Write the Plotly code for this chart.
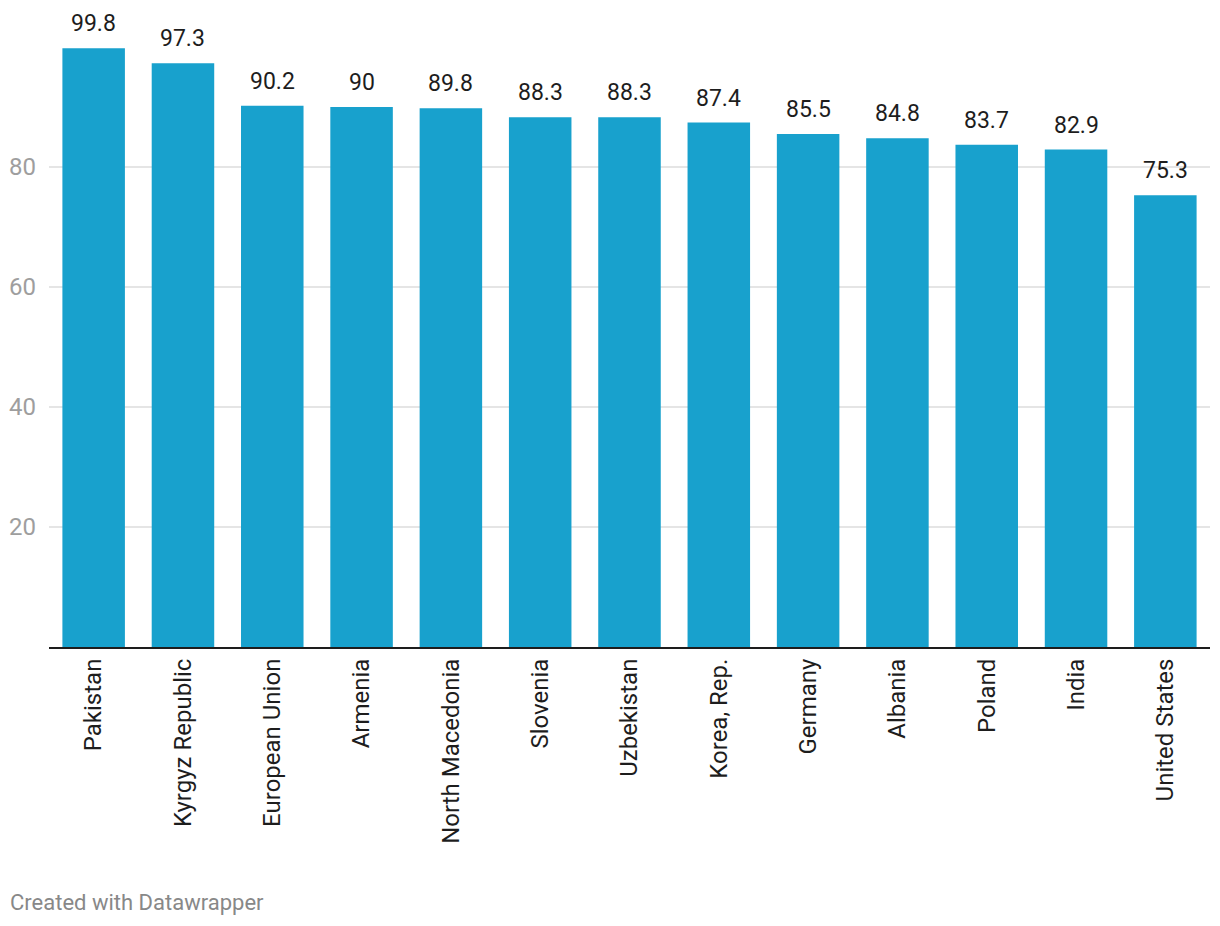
import plotly.graph_objects as go

categories = ["Pakistan", "Kyrgyz Republic", "European Union", "Armenia", "North Macedonia",
              "Slovenia", "Uzbekistan", "Korea, Rep.", "Germany", "Albania", "Poland",
              "India", "United States"]
values = [99.8, 97.3, 90.2, 90, 89.8, 88.3, 88.3, 87.4, 85.5, 84.8, 83.7, 82.9, 75.3]
value_labels = ["99.8", "97.3", "90.2", "90", "89.8", "88.3", "88.3", "87.4", "85.5",
                "84.8", "83.7", "82.9", "75.3"]
y_ticks = [20, 40, 60, 80]

fig = go.Figure(go.Bar(
    x=categories, y=values, marker=dict(color="#18a1cd", line=dict(width=0)),
    hoverinfo="skip",
))

for c, v, t in zip(categories, values, value_labels):
    fig.add_annotation(x=c, y=v, text=t, showarrow=False, yanchor="bottom", yshift=9,
                       font=dict(family="Roboto", size=23, color="#1d1d1d"))

fig.add_annotation(xref="paper", yref="paper", x=-41/1161, y=-255/600, xanchor="left",
                   yanchor="middle", text="Created with Datawrapper", showarrow=False,
                   font=dict(family="Roboto", size=22, color="#888888"))

fig.update_layout(
    width=1212, height=918,
    margin=dict(l=41, r=10, t=39, b=279, pad=0),
    paper_bgcolor="white", plot_bgcolor="white",
    bargap=0.3, showlegend=False,
    font=dict(family="Roboto"),
)
fig.update_xaxes(
    type="category", tickangle=-90, showgrid=False, ticks="", automargin=False,
    tickfont=dict(family="Roboto", size=24, color="#1d1d1d"),
    showline=True, linecolor="#1d1d1d", linewidth=2, ticklabelstandoff=0,
)
fig.update_yaxes(
    range=[0, 100], tickvals=y_ticks, showgrid=True, gridcolor="#e5e5e5", gridwidth=1.5,
    zeroline=False, showline=False, ticks="", ticklabelstandoff=12, automargin=False,
    tickfont=dict(family="Roboto", size=24, color="#9e9e9e"),
)

fig.write_html("out.html")
